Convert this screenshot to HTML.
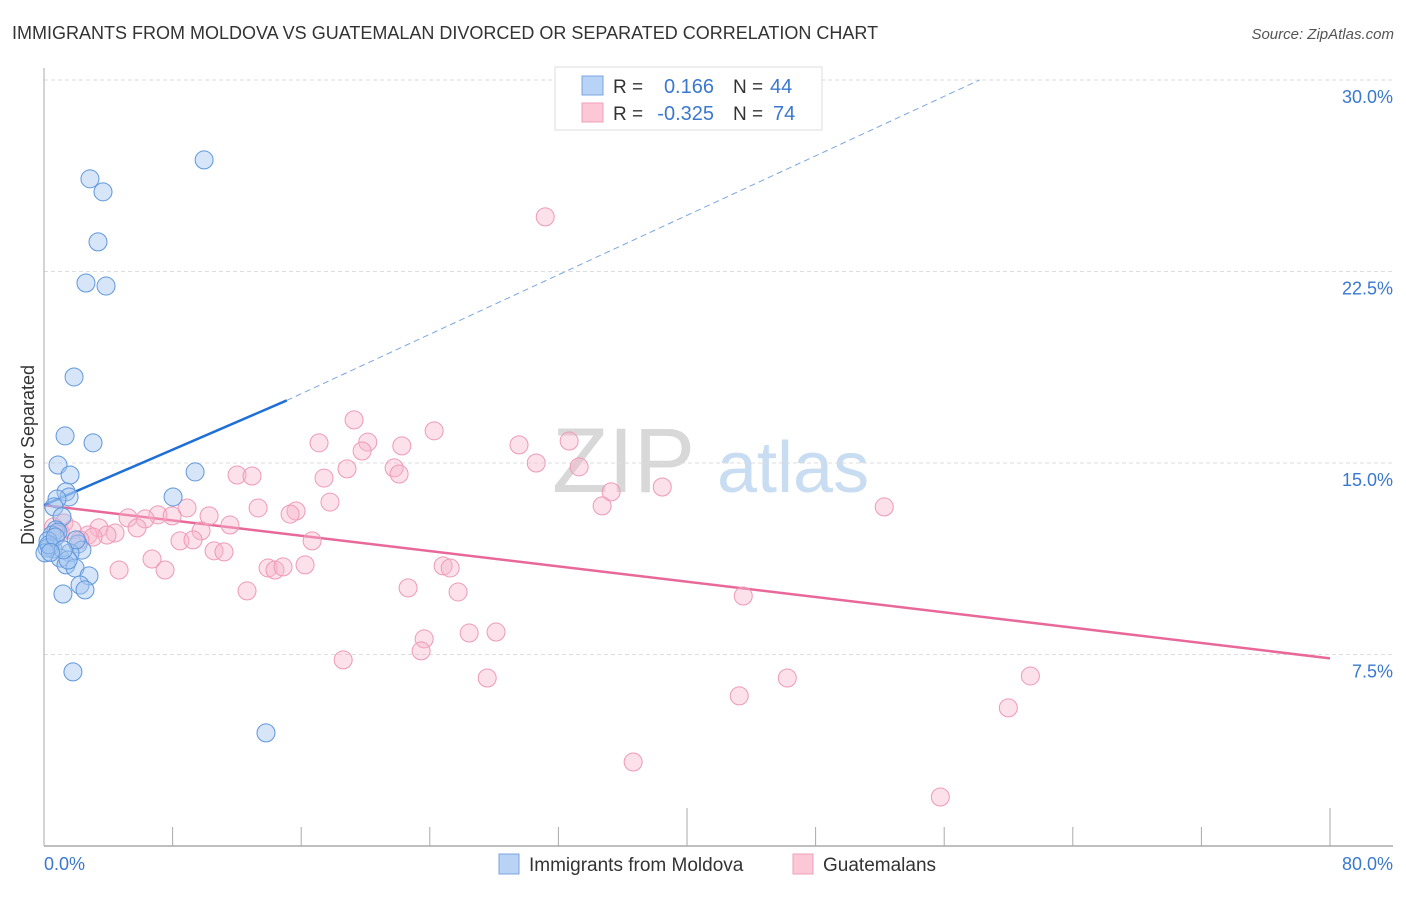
<!DOCTYPE html>
<html><head><meta charset="utf-8"><style>
body{margin:0;background:#fff;font-family:"Liberation Sans",sans-serif;}
svg text{font-family:"Liberation Sans",sans-serif;}
</style></head><body>
<svg id="chart" width="1406" height="892" viewBox="0 0 1406 892" xmlns="http://www.w3.org/2000/svg">
<text x="12" y="39" font-size="18" fill="#333">IMMIGRANTS FROM MOLDOVA VS GUATEMALAN DIVORCED OR SEPARATED CORRELATION CHART</text>
<text x="1394" y="39" font-size="15" fill="#555" font-style="italic" text-anchor="end">Source: ZipAtlas.com</text>
<g>
<text x="552" y="492" font-size="92" fill="#d8d8d8" font-family="Liberation Serif">ZIP</text>
<text x="717" y="492" font-size="72" fill="#c8dcf2">atlas</text>
</g>
<g id="grid"></g>
<g id="axes"></g>
<g id="trend"></g>
<g id="pts"></g>
<text x="34" y="455" font-size="18" fill="#333" text-anchor="middle" transform="rotate(-90 34 455)">Divorced or Separated</text>
<g>
<rect x="555" y="67" width="267" height="63" fill="#fff" stroke="#ddd"/>
<rect x="582" y="76" width="21" height="19" fill="#b8d3f5" stroke="#7aa6e0"/>
<rect x="582" y="103" width="21" height="19" fill="#fcc8d8" stroke="#f0a0b8"/>
<text x="613" y="93" font-size="19" fill="#333">R =</text>
<text x="714" y="93" font-size="20" fill="#3a78d0" text-anchor="end">0.166</text>
<text x="733" y="93" font-size="19" fill="#333">N =</text>
<text x="770" y="93" font-size="20" fill="#3a78d0">44</text>
<text x="613" y="120" font-size="19" fill="#333">R =</text>
<text x="714" y="120" font-size="20" fill="#3a78d0" text-anchor="end">-0.325</text>
<text x="733" y="120" font-size="19" fill="#333">N =</text>
<text x="773" y="120" font-size="20" fill="#3a78d0">74</text>
</g>
<g>
<rect x="499" y="854" width="20" height="20" fill="#b8d3f5" stroke="#7aa6e0"/>
<text x="529" y="871" font-size="19" fill="#333">Immigrants from Moldova</text>
<rect x="793" y="854" width="20" height="20" fill="#fcc8d8" stroke="#f0a0b8"/>
<text x="823" y="871" font-size="19" fill="#333">Guatemalans</text>
</g>
</svg>
<script>
const yTicks=[7.5,15,22.5,30];
const yTickLabels=["7.5%","15.0%","22.5%","30.0%"];
const xTicks=[0,8,16,24,32,40,48,56,64,72,80];
const blueX=[9.96,2.86,3.67,3.36,2.61,3.86,1.87,1.31,3.05,0.87,1.62,9.40,1.37,1.56,0.81,8.03,0.62,1.12,0.75,0.50,0.87,0.25,0.37,0.56,2.12,2.36,1.62,1.00,1.37,1.93,2.80,2.24,2.55,1.18,1.80,13.81,0.19,0.06,1.50,2.00,0.3,0.7,1.2,0.4];
const blueY=[26.87,26.13,25.62,23.66,22.05,21.93,18.37,16.06,15.79,14.92,14.53,14.65,13.87,13.67,13.59,13.67,13.28,12.89,12.38,12.18,12.30,11.95,11.71,11.63,11.83,11.59,11.48,11.28,11.01,10.89,10.58,10.22,10.03,9.87,6.82,4.43,11.67,11.48,11.20,11.99,11.8,12.1,11.6,11.5];
const pinkX=[31.18,19.29,24.27,17.11,20.14,22.26,29.55,32.67,19.79,30.62,18.85,21.78,22.09,33.29,12.01,12.94,17.42,38.46,35.28,17.79,34.72,52.27,8.90,13.32,15.68,15.31,10.27,7.09,5.23,6.29,7.97,11.57,3.42,5.79,1.24,1.00,1.74,2.74,4.42,3.92,9.77,3.05,2.24,8.46,9.27,16.68,10.58,11.20,6.72,16.24,4.67,7.53,13.94,14.37,14.87,24.83,25.27,12.63,22.65,25.76,43.50,26.45,28.12,23.65,23.46,18.61,61.36,27.57,46.24,43.25,59.99,36.65,55.76,0.6];
const pinkY=[24.64,16.69,16.26,15.79,15.82,15.67,15.71,15.86,15.47,15.00,14.77,14.81,14.57,14.85,14.53,14.49,14.41,14.06,13.87,13.47,13.32,13.28,13.24,13.24,13.12,13.00,12.93,12.97,12.85,12.81,12.93,12.57,12.46,12.46,12.65,12.30,12.38,12.18,12.26,12.18,12.34,12.10,11.99,11.95,11.99,11.95,11.56,11.52,11.24,11.01,10.81,10.81,10.89,10.81,10.93,10.97,10.89,9.99,10.11,9.95,9.79,8.34,8.38,8.11,7.64,7.29,6.66,6.58,6.58,5.88,5.41,3.29,1.92,12.5];
const blueTrend=[0,13.35,15.1,17.45];
const blueTrendExt=[15.1,17.45,58.2,30.0];
const pinkTrend=[0,13.35,80,7.35];

const NS="http://www.w3.org/2000/svg";
const X0=44,XS=(1330-44)/80,Y0=846,YS=(846-80)/30;
const sx=v=>X0+v*XS, sy=v=>Y0-v*YS;
function mk(tag,attrs,parent){const e=document.createElementNS(NS,tag);for(const k in attrs)e.setAttribute(k,attrs[k]);document.getElementById(parent).appendChild(e);return e;}
yTicks.forEach((t,i)=>{
 const l=mk('line',{x1:44,x2:1393,y1:sy(t),y2:sy(t),stroke:'#ddd','stroke-dasharray':'4,3'},'grid');
 
 
 const tx=mk('text',{x:1393,y:sy(t)+23,'font-size':18,fill:'#3a78d0','text-anchor':'end'},'axes');
 tx.textContent=yTickLabels[i];
 
 
});
let a=mk('line',{x1:44,x2:44,y1:68,y2:846,stroke:'#aaa'},'axes');


a=mk('line',{x1:44,x2:1393,y1:846,y2:846,stroke:'#aaa','stroke-width':1.5},'axes');


xTicks.forEach((t,i)=>{
 const big=(i===5||i===10);
 const l=mk('line',{x1:sx(t),x2:sx(t),y1:big?808:827,y2:846,stroke:'#aaa'},'axes');
 
 
});
let t=mk('text',{x:44,y:870,'font-size':18,fill:'#3a78d0'},'axes');t.textContent='0.0%';


t=mk('text',{x:1393,y:870,'font-size':18,fill:'#3a78d0','text-anchor':'end'},'axes');t.textContent='80.0%';


pinkX.forEach((x,i)=>{
 const c=mk('circle',{cx:sx(x),cy:sy(pinkY[i]),r:9,fill:'rgba(248,180,202,0.4)',stroke:'#ee9ab6','stroke-width':1},'pts');
 
 
});
blueX.forEach((x,i)=>{
 const c=mk('circle',{cx:sx(x),cy:sy(blueY[i]),r:9,fill:'rgba(165,198,240,0.45)',stroke:'#5f97dc','stroke-width':1},'pts');
 
 
});
let tl=mk('line',{x1:sx(pinkTrend[0]),y1:sy(pinkTrend[1]),x2:sx(pinkTrend[2]),y2:sy(pinkTrend[3]),stroke:'#e8689a','stroke-width':2.5},'trend');


tl=mk('line',{x1:sx(blueTrendExt[0]),y1:sy(blueTrendExt[1]),x2:sx(blueTrendExt[2]),y2:sy(blueTrendExt[3]),stroke:'#7aa6e0','stroke-width':1,'stroke-dasharray':'6,4'},'trend');


tl=mk('line',{x1:sx(blueTrend[0]),y1:sy(blueTrend[1]),x2:sx(blueTrend[2]),y2:sy(blueTrend[3]),stroke:'#1f6fd6','stroke-width':2.5},'trend');


</script>
</body></html>
